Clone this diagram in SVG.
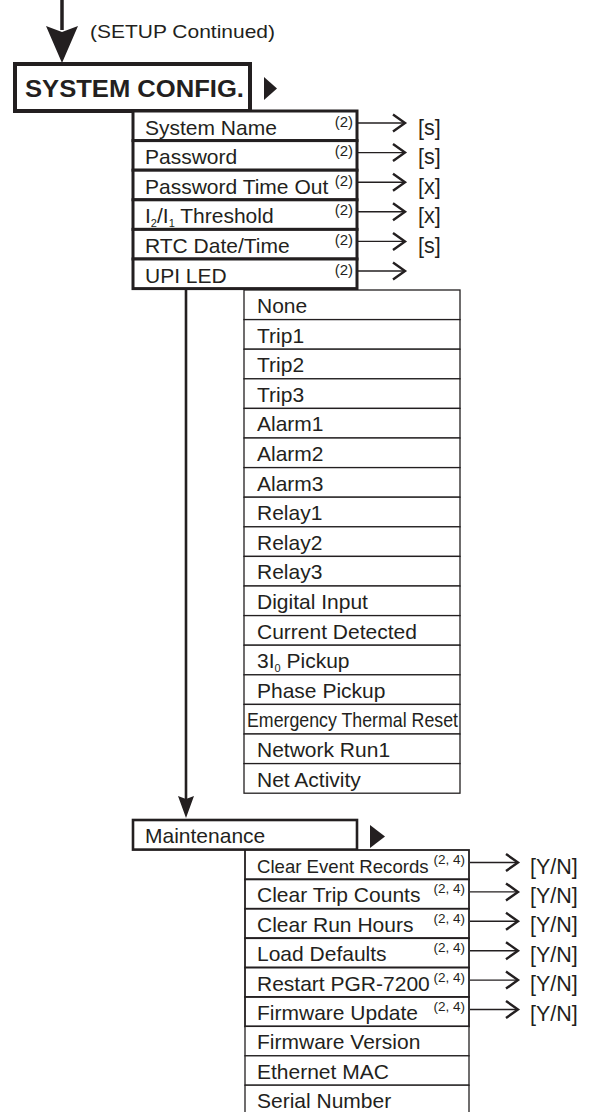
<svg xmlns="http://www.w3.org/2000/svg" width="589" height="1112" viewBox="0 0 589 1112">
<style>
text{font-family:"Liberation Sans",Arial,Helvetica,sans-serif;fill:#231f20}
.t{font-size:21px}
.sup{font-size:15px}
.sup4{font-size:13.5px}
.val{font-size:21.5px}
.thick{fill:#fff;stroke:#231f20;stroke-width:3}
.mid{fill:#fff;stroke:#231f20;stroke-width:1.8}
.thin{fill:#fff;stroke:#231f20;stroke-width:1.3}
.ln{stroke:#231f20;stroke-width:1.4;fill:none}
.vl{stroke:#231f20;stroke-width:2.6;fill:none}
.solid{fill:#231f20;stroke:none}
</style>
<defs>
<marker id="chev" markerUnits="userSpaceOnUse" markerWidth="16" markerHeight="20" refX="13" refY="9" orient="auto" overflow="visible">
<path d="M1,0.5 L13,9 L1,17.5" fill="none" stroke="#231f20" stroke-width="2.4"/>
</marker>
</defs>

<g id="connectors">
<line class="vl" x1="62" y1="0" x2="62" y2="30" style="stroke-width:3.5"/>
<polygon class="solid" points="46,26 62,32 78,26 62,63"/>
<line class="vl" x1="186" y1="289" x2="186" y2="800"/>
<polygon class="solid" points="178,796 186,799 194,796 186,818"/>
<polygon class="solid" points="264,77 264,100 277,88.5"/>
<polygon class="solid" points="370,825 370,848 385,836.5"/>
<line class="ln" x1="358" y1="123" x2="405" y2="123" marker-end="url(#chev)"/>
<line class="ln" x1="358" y1="152.6" x2="405" y2="152.6" marker-end="url(#chev)"/>
<line class="ln" x1="358" y1="182.2" x2="405" y2="182.2" marker-end="url(#chev)"/>
<line class="ln" x1="358" y1="211.8" x2="405" y2="211.8" marker-end="url(#chev)"/>
<line class="ln" x1="358" y1="241.4" x2="405" y2="241.4" marker-end="url(#chev)"/>
<line class="ln" x1="358" y1="271" x2="405" y2="271" marker-end="url(#chev)"/>
<line class="ln" x1="470" y1="862.5" x2="518" y2="862.5" marker-end="url(#chev)"/>
<line class="ln" x1="470" y1="891.9" x2="518" y2="891.9" marker-end="url(#chev)"/>
<line class="ln" x1="470" y1="921.3" x2="518" y2="921.3" marker-end="url(#chev)"/>
<line class="ln" x1="470" y1="950.7" x2="518" y2="950.7" marker-end="url(#chev)"/>
<line class="ln" x1="470" y1="980.1" x2="518" y2="980.1" marker-end="url(#chev)"/>
<line class="ln" x1="470" y1="1009.5" x2="518" y2="1009.5" marker-end="url(#chev)"/>
</g>

<g id="setup-label">
<text x="90" y="38" style="font-size:18.5px" textLength="185" lengthAdjust="spacingAndGlyphs">(SETUP Continued)</text>
</g>

<g id="system-config">
<rect x="15" y="64" width="235" height="47" fill="#fff" stroke="#231f20" stroke-width="4"/>
<text x="25" y="97" style="font-size:24.5px;font-weight:bold" textLength="219" lengthAdjust="spacingAndGlyphs">SYSTEM CONFIG.</text>
</g>

<g id="system-name">
<rect class="thick" x="133" y="111" width="224" height="29.6"/>
<text class="t" x="145" y="134.5">System Name</text>
<text class="sup" x="353" y="126.5" text-anchor="end">(2)</text>
<text class="val" x="418" y="134.5">[s]</text>
</g>
<g id="password">
<rect class="thick" x="133" y="140.6" width="224" height="29.6"/>
<text class="t" x="145" y="164.1">Password</text>
<text class="sup" x="353" y="156.1" text-anchor="end">(2)</text>
<text class="val" x="418" y="164.1">[s]</text>
</g>
<g id="password-timeout">
<rect class="thick" x="133" y="170.2" width="224" height="29.6"/>
<text class="t" x="145" y="193.7">Password Time Out</text>
<text class="sup" x="353" y="185.7" text-anchor="end">(2)</text>
<text class="val" x="418" y="193.7">[x]</text>
</g>
<g id="i2i1-threshold">
<rect class="thick" x="133" y="199.8" width="224" height="29.6"/>
<text class="t" x="145" y="223.3">I<tspan style="font-size:11px" dy="4">2</tspan><tspan dy="-4">/I</tspan><tspan style="font-size:11px" dy="4">1</tspan><tspan dy="-4"> Threshold</tspan></text>
<text class="sup" x="353" y="215.3" text-anchor="end">(2)</text>
<text class="val" x="418" y="223.3">[x]</text>
</g>
<g id="rtc-date-time">
<rect class="thick" x="133" y="229.4" width="224" height="29.6"/>
<text class="t" x="145" y="252.9">RTC Date/Time</text>
<text class="sup" x="353" y="244.9" text-anchor="end">(2)</text>
<text class="val" x="418" y="252.9">[s]</text>
</g>
<g id="upi-led">
<rect class="thick" x="133" y="259" width="224" height="29.6"/>
<text class="t" x="145" y="282.5">UPI LED</text>
<text class="sup" x="353" y="274.5" text-anchor="end">(2)</text>
</g>

<g id="upi-led-options">
<rect class="thin" x="244" y="290" width="216" height="29.6"/><text class="t" x="257" y="313">None</text>
<rect class="thin" x="244" y="319.6" width="216" height="29.6"/><text class="t" x="257" y="342.6">Trip1</text>
<rect class="thin" x="244" y="349.2" width="216" height="29.6"/><text class="t" x="257" y="372.2">Trip2</text>
<rect class="thin" x="244" y="378.8" width="216" height="29.6"/><text class="t" x="257" y="401.8">Trip3</text>
<rect class="thin" x="244" y="408.4" width="216" height="29.6"/><text class="t" x="257" y="431.4">Alarm1</text>
<rect class="thin" x="244" y="438" width="216" height="29.6"/><text class="t" x="257" y="461">Alarm2</text>
<rect class="thin" x="244" y="467.6" width="216" height="29.6"/><text class="t" x="257" y="490.6">Alarm3</text>
<rect class="thin" x="244" y="497.2" width="216" height="29.6"/><text class="t" x="257" y="520.2">Relay1</text>
<rect class="thin" x="244" y="526.8" width="216" height="29.6"/><text class="t" x="257" y="549.8">Relay2</text>
<rect class="thin" x="244" y="556.4" width="216" height="29.6"/><text class="t" x="257" y="579.4">Relay3</text>
<rect class="thin" x="244" y="586" width="216" height="29.6"/><text class="t" x="257" y="609">Digital Input</text>
<rect class="thin" x="244" y="615.6" width="216" height="29.6"/><text class="t" x="257" y="638.6">Current Detected</text>
<rect class="thin" x="244" y="645.2" width="216" height="29.6"/><text class="t" x="257" y="668.2">3I<tspan style="font-size:11px" dy="4">0</tspan><tspan dy="-4"> Pickup</tspan></text>
<rect class="thin" x="244" y="674.8" width="216" height="29.6"/><text class="t" x="257" y="697.8">Phase Pickup</text>
<rect class="thin" x="244" y="704.4" width="216" height="29.6"/><text class="t" x="247" y="727.4" textLength="211" lengthAdjust="spacingAndGlyphs">Emergency Thermal Reset</text>
<rect class="thin" x="244" y="734" width="216" height="29.6"/><text class="t" x="257" y="757">Network Run1</text>
<rect class="thin" x="244" y="763.6" width="216" height="29.6"/><text class="t" x="257" y="786.6">Net Activity</text>
</g>

<g id="maintenance">
<rect x="133" y="820" width="224" height="29.6" fill="#fff" stroke="#231f20" stroke-width="2.6"/>
<text class="t" x="145" y="843">Maintenance</text>
</g>

<g id="maintenance-items">
<rect class="mid" x="245" y="850" width="224" height="29.4"/><text x="257" y="873" style="font-size:18.6px">Clear Event Records</text><text class="sup4" x="465" y="864" text-anchor="end">(2, 4)</text><text class="val" x="530" y="873.5">[Y/N]</text>
<rect class="mid" x="245" y="879.4" width="224" height="29.4"/><text class="t" x="257" y="902.4">Clear Trip Counts</text><text class="sup4" x="465" y="893.4" text-anchor="end">(2, 4)</text><text class="val" x="530" y="902.9">[Y/N]</text>
<rect class="mid" x="245" y="908.8" width="224" height="29.4"/><text class="t" x="257" y="931.8">Clear Run Hours</text><text class="sup4" x="465" y="922.8" text-anchor="end">(2, 4)</text><text class="val" x="530" y="932.3">[Y/N]</text>
<rect class="mid" x="245" y="938.2" width="224" height="29.4"/><text class="t" x="257" y="961.2">Load Defaults</text><text class="sup4" x="465" y="952.2" text-anchor="end">(2, 4)</text><text class="val" x="530" y="961.7">[Y/N]</text>
<rect class="mid" x="245" y="967.6" width="224" height="29.4"/><text class="t" x="257" y="990.6">Restart PGR-7200</text><text class="sup4" x="465" y="981.6" text-anchor="end">(2, 4)</text><text class="val" x="530" y="991.1">[Y/N]</text>
<rect class="mid" x="245" y="997" width="224" height="29.4"/><text class="t" x="257" y="1020">Firmware Update</text><text class="sup4" x="465" y="1011" text-anchor="end">(2, 4)</text><text class="val" x="530" y="1020.5">[Y/N]</text>
<rect class="thin" x="245" y="1026.4" width="224" height="29.4"/><text class="t" x="257" y="1049.4">Firmware Version</text>
<rect class="thin" x="245" y="1055.8" width="224" height="29.4"/><text class="t" x="257" y="1078.8">Ethernet MAC</text>
<rect class="thin" x="245" y="1085.2" width="224" height="29.4"/><text class="t" x="257" y="1108.2">Serial Number</text>
</g>
</svg>
